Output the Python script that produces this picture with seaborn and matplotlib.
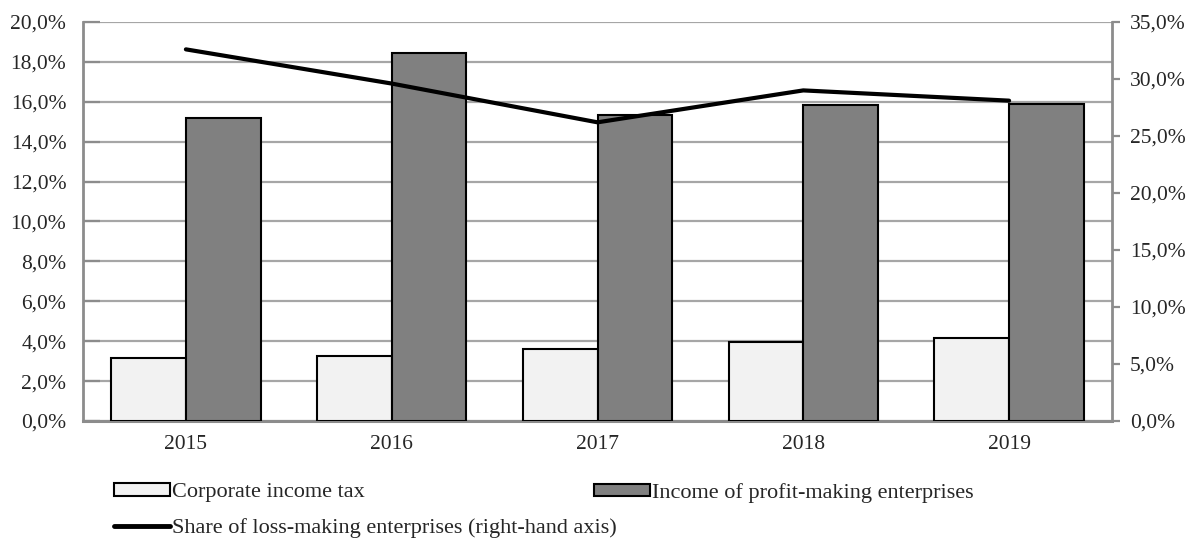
import numpy as np
import pandas as pd
import matplotlib
matplotlib.use("Agg")
import matplotlib.pyplot as plt
import seaborn as sns
from matplotlib.patches import Patch
from matplotlib.lines import Line2D
from matplotlib.ticker import FuncFormatter, MultipleLocator

years = ["2015", "2016", "2017", "2018", "2019"]
corporate_tax = [3.15, 3.27, 3.60, 3.95, 4.16]
profit_income = [15.21, 18.47, 15.32, 15.82, 15.89]
loss_share = [32.6, 29.6, 26.2, 29.0, 28.1]

name_tax = "Corporate income tax"
name_inc = "Income of profit-making enterprises"
name_loss = "Share of loss-making enterprises (right-hand axis)"

df = pd.DataFrame({
    "year": years * 2,
    "value": corporate_tax + profit_income,
    "series": [name_tax] * len(years) + [name_inc] * len(years),
})

sns.set_theme(style="white")
plt.rcParams["font.family"] = ["Liberation Serif", "DejaVu Serif"]
FS = 15.5
LFS = 16

fig = plt.figure(figsize=(11.89, 5.44), dpi=100)
ax = fig.add_axes([83 / 1189, 1 - 421 / 544, (1112 - 83) / 1189, (421 - 22) / 544])

light = "#f2f2f2"
dark = "#808080"
sns.barplot(data=df, x="year", y="value", hue="series", order=years,
            hue_order=[name_tax, name_inc], palette=[light, dark],
            width=0.725, gap=0, edgecolor="black", linewidth=1.5,
            legend=False, ax=ax, zorder=3)

fmt = FuncFormatter(lambda v, p: f"{v:.1f}%".replace(".", ","))
ax.set_ylim(0, 20)
ax.yaxis.set_major_locator(MultipleLocator(2))
ax.yaxis.set_major_formatter(fmt)
ax.set_xlim(-0.5, 4.5)
ax.set_xlabel("")
ax.set_ylabel("")
ax.grid(axis="y", color="#a6a6a6", linewidth=1.6, zorder=0)
ax.set_axisbelow(True)
ax.tick_params(axis="y", direction="in", length=12, width=1.6, color="#8c8c8c",
               labelsize=FS, pad=12, left=True)
ax.tick_params(axis="x", length=0, labelsize=FS, pad=10)
for s in ["top", "right"]:
    ax.spines[s].set_visible(False)
ax.spines["left"].set_color("#8c8c8c")
ax.spines["left"].set_linewidth(2)
ax.spines["bottom"].set_color("#8c8c8c")
ax.spines["bottom"].set_linewidth(2.2)

ax2 = ax.twinx()
sns.lineplot(x=np.arange(len(years)), y=loss_share, color="black", linewidth=3,
             ax=ax2, zorder=5)
ax2.set_ylim(0, 35)
ax2.yaxis.set_major_locator(MultipleLocator(5))
ax2.yaxis.set_major_formatter(fmt)
ax2.tick_params(axis="y", direction="out", length=6, width=1.6, color="#8c8c8c",
                labelsize=FS, pad=7, right=True)
for s in ["top", "left", "bottom"]:
    ax2.spines[s].set_visible(False)
ax2.spines["right"].set_color("#8c8c8c")
ax2.spines["right"].set_linewidth(2)
ax2.set_xlim(-0.5, 4.5)
ax2.grid(False)

h_tax = Patch(facecolor=light, edgecolor="black", linewidth=1.5, label=name_tax)
h_loss = Line2D([0], [0], color="black", linewidth=3.5, label=name_loss)
h_inc = Patch(facecolor=dark, edgecolor="black", linewidth=1.5, label=name_inc)
common = dict(frameon=False, fontsize=LFS, loc="upper left",
              handlelength=2.5, handleheight=0.5, handletextpad=0.12,
              labelspacing=0.7, borderaxespad=0, borderpad=0)
leg1 = fig.legend(handles=[h_tax, h_loss], bbox_to_anchor=(114 / 1189, 1 - 483 / 544), **common)
leg2 = fig.legend(handles=[h_inc], bbox_to_anchor=(594 / 1189, 1 - 483 / 544), **common)

fig.savefig("out.png", dpi=100)
